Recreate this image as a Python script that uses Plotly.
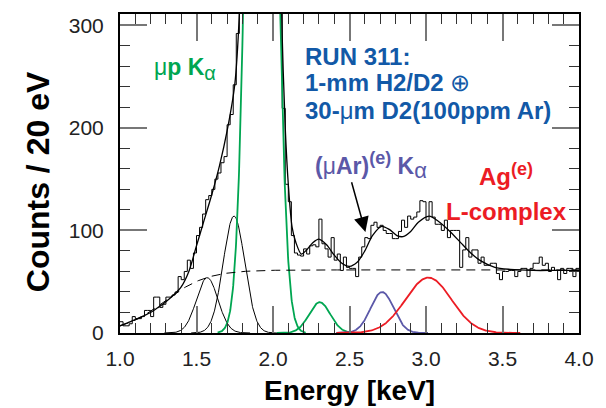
import numpy as np
import plotly.graph_objects as go

# ---------------- data ----------------
bin_start = 1.0      # keV, lower edge of first bin
bin_width = 0.02     # keV (20 eV bins)

counts = [
    11, 7, 7, 9, 16, 14, 14, 16, 22, 22,            # 1.00-1.20
    16, 35, 35, 25, 28, 35, 35, 37, 40, 55,         # 1.20-1.40
    52, 60, 71, 63, 78, 95, 103, 116, 130, 134,     # 1.40-1.60
    140, 150, 156, 166, 172, 203, 213, 242, 292, 335,  # 1.60-1.80
    420, 560, 720, 900, 1080, 1250, 1350, 1300, 1180, 980,  # 1.80-2.00
    780, 560, 330, 219, 145, 128, 95, 78, 76, 75,   # 2.00-2.20
    82, 77, 85, 86, 84, 111, 87, 82, 74, 93,        # 2.20-2.40
    71, 77, 61, 74, 64, 63, 63, 55, 74, 84,         # 2.40-2.60
    93, 92, 105, 108, 103, 105, 100, 97, 97, 92,    # 2.60-2.80
    92, 99, 110, 103, 114, 111, 113, 118, 129, 128, # 2.80-3.00
    110, 128, 113, 106, 106, 100, 110, 93, 100, 100,  # 3.00-3.20
    100, 64, 81, 93, 74, 81, 81, 68, 74, 66,        # 3.20-3.40
    66, 68, 68, 58, 52, 60, 60, 61, 61, 55,         # 3.40-3.60
    60, 63, 63, 55, 63, 68, 68, 74, 66, 68,         # 3.60-3.80
    60, 64, 61, 52, 63, 58, 63, 63, 55, 63,         # 3.80-4.00
]

# total fit curve
fit_energy = [1.0, 1.05, 1.1, 1.15, 1.2, 1.25, 1.3, 1.35, 1.4, 1.45, 1.5, 1.55,
              1.6, 1.65, 1.7, 1.75, 1.78, 1.82, 1.87, 1.926, 1.98, 2.03, 2.06,
              2.08, 2.1, 2.125, 2.15, 2.185, 2.22, 2.26, 2.3, 2.35, 2.4, 2.45,
              2.5, 2.55, 2.6, 2.65, 2.71, 2.76, 2.81, 2.85, 2.9, 2.95, 3.02,
              3.08, 3.15, 3.24, 3.3, 3.35, 3.45, 3.55, 3.7, 3.85, 4.0]
fit_total = [7, 10, 13, 16.5, 20, 25, 30.5, 37, 45, 60, 85, 110,
             135, 163, 197, 242, 311, 540, 1040, 1365, 1040, 520, 290,
             200, 145, 103, 88, 77, 81, 88, 91.5, 86, 76, 68,
             65, 69, 80, 95, 104, 101, 95, 94, 99, 108, 114,
             109, 100, 86, 77, 71, 64, 62, 61, 61, 61]

# background (dashed) parameters
bg_plateau = 61.5
bg_edge = 1.29
bg_slope = 0.14

# fitted peak components: centre [keV], height [counts], sigma [keV]
peak_centers = [1.57, 1.745, 1.926, 2.305, 2.713, 3.016]
peak_heights = [54, 114, 1300, 30, 40, 54]
peak_sigmas = [0.07, 0.07, 0.072, 0.07, 0.075, 0.15]

x_tick_values = [1.0, 1.5, 2.0, 2.5, 3.0, 3.5, 4.0]
x_tick_labels = ["1.0", "1.5", "2.0", "2.5", "3.0", "3.5", "4.0"]
y_tick_values = [0, 100, 200, 300]
y_tick_labels = ["0", "100", "200", "300"]

# ---------------- styles ----------------
GREEN = "#00a651"
BLUE = "#1259a7"
PURPLE = "#5b58a8"
RED = "#ec1c24"
FONT = "Liberation Sans, Arial, sans-serif"
peak_colors = ["black", "black", GREEN, GREEN, PURPLE, RED]
peak_widths = [1, 1, 1.8, 1.8, 1.8, 1.8]

fig = go.Figure()

# histogram (step line)
n = len(counts)
edges = bin_start + bin_width * np.arange(n + 1)
fig.add_trace(go.Scatter(x=edges, y=list(counts) + [counts[-1]], mode="lines",
                         line=dict(color="black", width=1, shape="hv"),
                         hoverinfo="skip", showlegend=False))

# components
for c, h, s, col, w in zip(peak_centers, peak_heights, peak_sigmas, peak_colors, peak_widths):
    e = np.linspace(c - 4 * s, c + 4 * s, 300)
    g = h * np.exp(-0.5 * ((e - c) / s) ** 2)
    fig.add_trace(go.Scatter(x=e, y=g, mode="lines", line=dict(color=col, width=w),
                             hoverinfo="skip", showlegend=False))

# background
eb = np.linspace(1.0, 4.0, 400)
bg = bg_plateau / (1 + np.exp(-(eb - bg_edge) / bg_slope))
fig.add_trace(go.Scatter(x=eb, y=bg, mode="lines",
                         line=dict(color="black", width=1, dash="9px,6px"),
                         hoverinfo="skip", showlegend=False))

# total fit
fig.add_trace(go.Scatter(x=fit_energy, y=fit_total, mode="lines",
                         line=dict(color="black", width=1.3, shape="spline", smoothing=0.8),
                         hoverinfo="skip", showlegend=False))

axis_common = dict(showline=True, linecolor="black", linewidth=2, mirror="ticks",
                   ticks="inside", ticklen=27, tickwidth=1.5, tickcolor="#777",
                   showgrid=False, zeroline=False,
                   tickfont=dict(family=FONT, size=21, color="#222"))

fig.update_xaxes(range=[1.0, 4.0], tickvals=x_tick_values, ticktext=x_tick_labels,
                 minor=dict(ticks="inside", ticklen=10, dtick=0.1, tickwidth=1, tickcolor="#333"),
                 ticklabelstandoff=6, **axis_common)
fig.update_yaxes(range=[0, 311], tickvals=y_tick_values, ticktext=y_tick_labels,
                 minor=dict(ticks="inside", ticklen=10, dtick=20, tickwidth=1, tickcolor="#333"),
                 ticklabelstandoff=10, **axis_common)


def sz(text, px):
    return '<span style="font-size:%dpx">%s</span>' % (px, text)


ann = []
# axis titles
ann.append(dict(text="<b>Energy [keV]</b>", xref="paper", yref="paper", x=0.5, y=-0.18,
                xanchor="center", yanchor="middle", showarrow=False,
                font=dict(family=FONT, size=28, color="black")))
ann.append(dict(text="<b>Counts / 20 eV</b>", xref="paper", yref="paper", x=-0.177, y=0.475,
                xanchor="center", yanchor="middle", textangle=-90, showarrow=False,
                font=dict(family=FONT, size=32, color="black")))
# labels
ann.append(dict(text="μ<b>p K</b><sub>" + sz("α", 20) + "</sub>", x=1.21, y=257,
                xanchor="left", yanchor="middle",
                showarrow=False, font=dict(family=FONT, size=23, color=GREEN)))
blue_lines = ["<b>RUN 311:</b>", "<b>1-mm H2/D2</b> ⊕", "<b>30-</b>μ<b>m D2(100ppm Ar)</b>"]
blue_y = [270, 244, 217]
for txt, yy in zip(blue_lines, blue_y):
    ann.append(dict(text=txt, x=2.195, y=yy, xanchor="left", yanchor="middle", align="left",
                    showarrow=False, font=dict(family=FONT, size=24, color=BLUE)))
ann.append(dict(text="<b>(</b>μ<b>Ar)<sup>" + sz("(e)", 18) + "</sup> K</b><sub>" + sz("α", 22) + "</sub>",
                x=2.26, y=163, xanchor="left", yanchor="middle", showarrow=False,
                font=dict(family=FONT, size=23, color=PURPLE)))
ann.append(dict(text="<b>Ag<sup>" + sz("(e)", 18) + "</sup></b>", x=3.524, y=155,
                xanchor="center", yanchor="middle",
                showarrow=False, font=dict(family=FONT, size=24, color=RED)))
ann.append(dict(text="<b>L-complex</b>", x=3.524, y=118, xanchor="center", yanchor="middle",
                showarrow=False, font=dict(family=FONT, size=24, color=RED)))
# arrow
ann.append(dict(text="", x=2.604, y=98.4, ax=2.511, ay=148.4, axref="x", ayref="y",
                showarrow=True, arrowhead=2, arrowsize=2, arrowwidth=1.5, arrowcolor="black"))

fig.update_layout(width=606, height=408, autosize=False,
                  margin=dict(l=120, r=26, t=12, b=75),
                  paper_bgcolor="white", plot_bgcolor="white",
                  annotations=ann, showlegend=False)

fig.write_html("out.html", config={"displayModeBar": False},
               post_script="document.body.style.margin='0';document.body.style.overflow='hidden';")
